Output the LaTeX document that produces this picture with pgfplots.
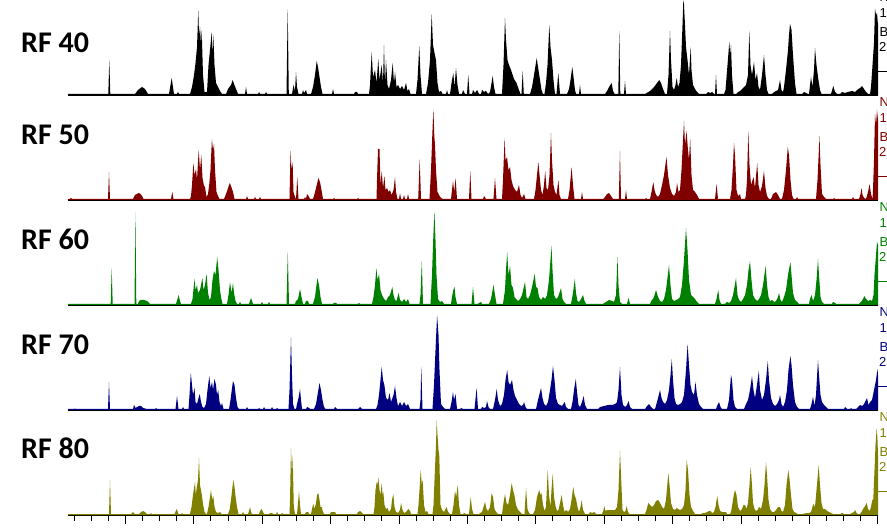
\documentclass[border=0pt]{standalone}
\usepackage{pgfplots}
\pgfplotsset{compat=1.18}
\usepackage{fontspec}
\newfontfamily\rffont{Carlito}
\newfontfamily\labfont{Liberation Sans}
\definecolor{cA}{RGB}{0,0,0}
\definecolor{cB}{RGB}{128,0,0}
\definecolor{cC}{RGB}{0,128,0}
\definecolor{cD}{RGB}{0,0,128}
\definecolor{cE}{RGB}{128,128,0}
\pgfplotsset{
  panel/.style={
    scale only axis, width=810pt, height=105pt,
    xmin=68, xmax=878, ymin=0, ymax=105,
    clip=false,
    axis x line=bottom, axis y line=none,
    x axis line style={-, line width=1.4pt, black},
    xtick=\empty, ytick=\empty,
  },
}
\newcommand{\rlabels}[2]{%
  \node[anchor=west, inner sep=0pt, text=#2, font=\labfont\fontsize{13}{15}\selectfont] at (879.5pt,#1+98pt) {N};
  \node[anchor=west, inner sep=0pt, text=#2, font=\labfont\fontsize{13}{15}\selectfont] at (879.5pt,#1+81.5pt) {1};
  \node[anchor=west, inner sep=0pt, text=#2, font=\labfont\fontsize{13}{15}\selectfont] at (879.5pt,#1+63pt) {B};
  \node[anchor=west, inner sep=0pt, text=#2, font=\labfont\fontsize{13}{15}\selectfont] at (879pt,#1+48.5pt) {2};
  \draw[#2, line width=0.8pt] (875pt,#1+24pt) -- (890pt,#1+24pt);
}
\begin{document}
\begin{tikzpicture}[x=1pt,y=1pt]
\useasboundingbox (0,0) rectangle (887,528);

% ---------------- RF 40 ----------------
\begin{axis}[panel, at={(68pt,433pt)}, anchor=south west]
\addplot[fill=cA, draw=none] coordinates {
(68,0)(68,1)
(108.3,1)(109.3,35)(110.3,1)
(135,1)(138,5)(142,8)(145,6)(148,1)
(169,1)(171.7,17)(174,1)
(177,1)(178,3)(179,1)
(190,1)(192,8)(194,20)(195.5,32)(197,48)(198.3,85)(199,60)(200,68)(201,50)(201.7,65)(203,20)(204.5,3)
(207,3)(208.5,30)(210,45)(211.7,63)(212.5,40)(213.3,60)(214.5,30)(216,12)(218,8)(220,4)(222,1)
(226,1)(228,6)(231,10)(232.7,15)(234,11)(236,6)(238,1)
(245,1)(246,8)(247,1)
(258,1)(259,3)(260,1)(265,1)(266,3)(267,1)
(286.5,1)(287.7,86)(288.8,1)
(292,1)(293.5,10)(295,4)(296,23)(297,8)(298.5,1)
(302,1)(303,5)(304,2)(306,5)(307,1)
(311,1)(313,8)(315,20)(316.7,34)(318,28)(319.5,18)(321,8)(322.5,1)
(332,1)(333,6)(334,1)
(354,1)(355,3)(357,3)(358,1)
(369,1)(370,10)(371.7,43)(373,18)(375,25)(376.5,12)(378.3,36)(379.5,15)(381.7,30)(383,12)(384,50)(385,10)(386,35)(387.5,10)(389,6)(391,15)(392.7,32)(394,12)(395,23)(396.5,8)(398,10)(400,6)(402,9)(404,5)(406,12)(407.5,4)(409,6)(410.5,1)
(416,1)(417.5,15)(419.3,49)(420.5,20)(422,1)
(426,1)(428,12)(430,35)(431.7,81)(433,50)(434.5,42)(436,35)(437.5,12)(439,3)(441,4)(442.5,1)(446,1)(447,5)(448,1)
(450,1)(451.5,12)(453.3,22)(454.5,8)(456,27)(457.5,10)(459,1)
(462,1)(463,5)(465,1)(467,1)(468.3,20)(469.5,1)
(472,1)(473,5)(475,2)(477,5)(479,1)
(481,1)(482,5)(484,3)(486,4)(488,1)(490,3)(491.5,12)(492.7,19)(494,8)(495.5,1)
(502,1)(503.5,30)(505,77)(506,55)(507.5,35)(509,30)(511,25)(514,16)(516.5,12)(519,5)(520.5,1)
(521.5,1)(522.7,24)(523.8,1)
(530,1)(532,8)(534,20)(536.7,37)(538,28)(540,15)(541.5,5)(543,1)
(544.5,1)(546,12)(547.5,30)(549.3,70)(550.5,48)(552,35)(553.5,15)(555,1)
(556.5,1)(558.3,22)(560,1)
(567,1)(569,6)(570.5,15)(572.3,28)(573.5,18)(575,5)(576,1)
(579,1)(580,10)(581,1)
(605,1)(607,4)(609,8)(611.7,12)(613,4)(614.5,1)
(618.3,1)(619.3,64)(620.3,1)
(624,1)(625,14)(626,1)
(645,1)(650,4)(654,8)(657,12)(659.3,15)(661,12)(663,6)(665,1)
(667,1)(668.5,20)(670,64)(671,35)(672.5,8)(674,5)(675.5,10)(676.7,17)(678,8)(679.5,12)
(681,30)(682.5,70)(683.3,95)(684,90)(685,70)(686,48)(687.5,35)(689,20)(690.7,48)(691.5,25)(693,10)(695,6)(697,3)(699,1)
(706,1)(708,3)(710,2)(712,3)(714,1)(715,1)(716,20)(717,1)
(724,1)(725.5,5)(727.5,30)(729.3,53)(730.2,40)(731,50)(732,20)(733.5,1)
(736,1)(738,3)(740,4)(742,6)(744,8)(746,10)(748,20)(749.3,64)(750.5,30)(752,20)(754,33)(755.5,15)(757,22)(758.5,8)(760,5)(762,20)(764,40)(765.5,20)(767,5)(768.5,1)
(772,1)(774,3)(776,4)(778,5)(779,10)(780,15)(781.5,5)(783,3)
(784,8)(786,25)(788,45)(789,60)(790,71)(791.5,65)(793,40)(795,12)(796.5,1)
(802,1)(804,3)(806,2)(808,1)
(809,1)(810,10)(811,18)(812.5,8)(814,25)(815,47)(816.5,30)(818,18)(820,5)(821.5,1)
(831,1)(833.3,9)(835,3)(837,1)
(840,1)(842,3)(845,2)(848,3)(852,4)(855,3)(857,5)(860,7)(862,9)(864,6)(866,3)(868,1)(870,1)
(871,8)(872.5,30)(874,52)(875,86)(876,80)(877,82)(878,70)(878,0)
};
\end{axis}

% ---------------- RF 50 ----------------
\begin{axis}[panel, at={(68pt,328pt)}, anchor=south west]
\addplot[fill=cB, draw=none] coordinates {
(68,0)(68,1)(70,1)(71,2)(72,1)
(108,1)(109,28)(110,1)
(133,1)(135,5)(137,6)(139,7)(140.5,6)(142,4)(143.5,1)
(171,1)(172.3,8)(173.5,1)
(190,1)(191,4)(192,15)(193.4,37)(194.5,25)(196,31)(197,20)(198.7,50)(200,30)(201.3,45)(202.5,22)(204,14)(205,13)(206.5,3)(208,6)(209.3,16)(210.5,30)(211.9,61)(213,50)(214,56)(215,30)(216.5,8)(218,4)(219.5,1)
(224,1)(226,6)(228,12)(229.8,17)(231,14)(233,8)(234.5,1)
(246,1)(247,4)(248,1)(254,1)(255,3)(256,1)(259,1)(260,3)(261,1)
(289.5,1)(290.5,49)(291.5,30)(292.6,38)(293.5,8)(295,3)(296,1)(297.3,23)(298.5,1)
(304,1)(305,3)(306,1)(307,6)(308.5,4)(310,1)
(313,1)(314.5,6)(316,12)(318.4,22)(320,18)(321.5,10)(323,1)
(333,1)(334,2)(335,1)
(357,1)(358,2)(359,1)
(376.5,1)(377,20)(378,51)(379.5,51)(380.5,15)(381.7,29)(383,12)(384.4,24)(385.5,10)(387,12)(388.5,8)(390,10)(391.5,5)(393.5,10)(395,23)(396,8)(397.5,1)
(399,1)(400,7)(401,1)(403,1)(404,5)(405,1)(407,1)(408,6)(409,1)
(418.2,1)(419.7,41)(421,1)
(429.5,1)(431,30)(432.5,70)(433.4,91)(434.3,64)(435,55)(436,30)(437.5,8)(439,5)(441,2)(443,1)
(451,1)(452,10)(453,19)(454.3,8)(455.6,22)(457,1)
(469,1)(470.3,29)(471.5,1)
(483,1)(484,4)(486,1)
(493.5,1)(495,22)(496.5,1)
(502,1)(503,20)(504.6,62)(505.5,40)(507,43)(508.5,30)(510,33)(511.5,20)(513,14)(515,10)(517,8)(519,15)(520.5,5)(522,2)(524,6)(525.5,1)
(534,1)(535.5,10)(537,25)(538.4,38)(539.5,25)(541,10)(542.5,5)(544,15)(545.2,29)(546.5,12)(548,10)(549.5,25)(551,67)(552,40)(553.5,15)(555,8)(556.5,5)(558.4,20)(559.5,5)(561,1)
(568,1)(569.5,10)(571.6,33)(573,15)(574.5,1)
(581,1)(582,8)(583,1)
(603,1)(605,3)(607,6)(609,7)(611,4)(613,1)
(618.8,1)(620,49)(621,1)(625,1)(626,10)(627,1)
(645,1)(646,2)(647,1)
(650,1)(651.5,8)(653.3,18)(654.5,10)(656,5)(658,3)(660,6)(662,15)(664,25)(666.5,43)(668,25)(670,12)(672,6)(674,4)(676,8)(677,17)(678.5,8)(680,10)(681.5,30)(683,60)(684,79)(685,55)(686.5,69)(688,50)(689,40)(690.2,61)(691.5,25)(693,10)(695,8)(697,5)(699,1)
(715,1)(716.6,16)(718,1)
(730,1)(731.5,10)(733,35)(734,57)(735,45)(736.5,10)(738,4)(740,6)(741,1)
(745,1)(746,5)(747,20)(748.3,69)(749.5,35)(751,15)(753.5,23)(755,12)(757.2,37)(758.5,15)(760,8)(762,14)(764,29)(765.5,12)(767,4)(769,1)
(771,1)(773,6)(776,8)(778,5)(780,1)
(782,1)(784,10)(786,30)(787.8,53)(789,45)(790.5,20)(792,5)(793.5,1)
(796,1)(797,3)(798,1)
(816,1)(817.5,20)(819.5,64)(820.5,35)(822,6)(824,3)(826,1)
(833,1)(834,2)(835,1)(852,1)(853,3)(854,1)
(859,1)(860.5,6)(861.6,12)(862.5,5)(864,2)(866,1)(868,8)(869.6,16)(871,6)(872.5,1)
(873,10)(874,40)(875,86)(876,75)(877,90)(878,80)(878,0)
};
\end{axis}

% ---------------- RF 60 ----------------
\begin{axis}[panel, at={(68pt,223pt)}, anchor=south west]
\addplot[fill=cC, draw=none] coordinates {
(68,0)(68,1.2)
(110.7,1.2)(111.7,37)(112.7,1.2)
(134.5,1.2)(135.4,93)(136.3,1.2)
(138,1.2)(139,4)(141,5)(144,5)(147,4)(149,2)(150,1.2)
(176,1.2)(177.5,6)(178.7,10)(180,4)(181,1.2)
(191,1.2)(192.5,6)(194.5,26)(195.5,15)(197,20)(198,12)(200,15)(202.4,27)(203.5,15)(205,20)(206.6,31)(208,12)(209.5,5)(211,8)(212.5,25)(214,34)(215.5,30)(217.2,48)(218.5,35)(220,15)(221,8)(222.5,1.2)
(227,1.2)(228.5,10)(230,23)(231.5,12)(233,22)(234,12)(235.5,4)(237,1.2)
(239,1.2)(240,3)(241,1.2)(249,1.2)(251,7)(253,1.2)
(261,1.2)(262,3)(263,1.2)(268,1.2)(269,3)(270,1.2)
(286.5,1.2)(287.8,53)(289,1.2)
(295,1.2)(296,4)(298,6)(300,16)(301.5,8)(303,1.2)
(305,1.2)(306,4)(308,4)(309,1.2)
(313,1.2)(315,8)(317.4,27)(319,20)(320.5,8)(322,1.2)
(333,1.2)(334,2)(336,2)(337,1.2)(358,1.2)(359,2)(360,1.2)
(372,1.2)(373.5,8)(375,20)(376.4,37)(377.5,25)(379,31)(380.5,15)(382,10)(384,6)(386,4)(388,8)(390,10)(392.3,18)(393.5,10)(395,5)(396.5,4)(398.6,12)(400,5)(402,3)(404,6)(406,3)(408,6)(409.5,1.2)
(419.5,1.2)(420.5,10)(421.8,44)(423,1.2)
(430.5,1.2)(432,30)(433,60)(434.4,94)(435.5,65)(436.5,30)(438,6)(440,3)(442,4)(444,1.2)
(451,1.2)(452,8)(453.3,15)(454.5,18)(455.5,8)(457,1.2)
(471.5,1.2)(473,18)(474.5,1.2)
(478,1.2)(479,2)(481,3)(482,1.2)
(489,1.2)(491,6)(493.5,20)(495,10)(496.5,1.2)
(503,1.2)(505,15)(506,35)(507.2,53)(508.5,30)(510,39)(511.5,20)(513,17)(514.5,8)(516,6)(518,4)(520,6)(522,10)(525,23)(526.5,8)(528,6)(530,10)(532,18)(534.7,31)(536,18)(537.5,17)(539,8)(541,5)(543,8)(545,6)(547,10)(549,25)(551.5,59)(552.5,35)(554,10)(556,6)(558,8)(561,17)(562.5,6)(564,3)(566,1.2)
(571,1.2)(573,12)(574.8,26)(576,12)(577.5,4)(579,3)(581,6)(583,10)(584.5,4)(586,1.2)
(603,1.2)(606,3)(609,5)(612,4)(614,3)(616,10)(617.5,48)(618.5,20)(620,3)(622,1.2)
(627,1.2)(628.5,7)(630,1.2)
(650,1.2)(652,5)(654,8)(656,15)(658,8)(660,4)(662,3)(664,6)(666,15)(669,40)(670.5,20)(672,6)(674,4)(676,5)(678,6)(680,8)(682,20)(684,45)(686,77)(687.5,55)(689,25)(691,10)(693,8)(695,6)(697,3)(699,1.2)
(715,1.2)(716.5,6)(718.2,15)(719.5,5)(721,1.2)
(725,1.2)(727,3)(729,2)(731,4)(733,10)(734.5,18)(736,27)(737.5,10)(739,5)(741,3)(743,6)(745,10)(747,20)(748.5,35)(750,44)(751.5,25)(753,10)(755,6)(757,4)(759,6)(761,10)(763,20)(765.7,39)(767,20)(768.5,8)(770,4)(772,5)(774,3)(776,4)(778,8)(779,12)(780.5,5)(782,3)(784,8)(786,15)(788,30)(790.4,43)(791.5,30)(793,12)(795,5)(797,3)(799,1.2)
(809,1.2)(810,6)(811.5,10)(813,4)(815,10)(816.5,25)(818,46)(819,30)(820.5,8)(822,3)(824,1.2)
(832,1.2)(833,3)(835,2)(836,1.2)
(859,1.2)(861,3)(863,6)(864.3,9)(866,6)(868,4)(870,5)(872,4)(873.5,10)(874.5,30)(876,50)(877,63)(878,60)(878,0)
};
\end{axis}

% ---------------- RF 70 ----------------
\begin{axis}[panel, at={(68pt,118pt)}, anchor=south west]
\addplot[fill=cD, draw=none] coordinates {
(68,0)(68,1)(74,1)(75,1.5)(76,1)
(108,1)(109,28)(110,1)
(133,1)(134,5)(135.5,2)(137,3)(139,4)(141,4)(143,2)(145,1.5)(147,1)
(155,1)(156,2)(157,1)
(175.5,1)(177,14)(178.5,1)
(182,1)(183,3)(184,1)
(188.5,1)(189.5,15)(190.8,37)(192,25)(193,15)(194.5,22)(195.5,8)(197,6)(198.5,12)(199.8,16)(201,8)(202.5,3)(204,2)(206,6)(207.5,20)(209.3,34)(210.5,22)(212,28)(213,20)(214.5,31)(216,25)(217,15)(218.2,20)(219.5,8)(221,4)(222,7)(223.5,1)
(229,1)(230.5,10)(232,22)(233,29)(234.5,25)(236,12)(237.5,3)(239,1)
(246,1)(247,3)(248,1)(258,1)(259,2)(260,1)(263,1)(264,3)(265,1)(271,1)(272,3)(273,1)(276,1)(277,2)(278,1)
(288.5,1)(289.5,20)(291,72)(292,35)(293,6)(294.5,1)
(296,1)(297,6)(298.5,12)(300,21)(301,10)(302,1)
(306,1)(307,3)(309,2)(310,1)
(314,1)(316,6)(318,18)(319.5,27)(321,20)(322.5,10)(324,3)(325.5,1)
(334,1)(335,3)(337,1)(358,1)(360,3)(362,1)
(376,1)(377.5,5)(379,15)(380.5,30)(381.7,43)(383,30)(384.4,25)(386,12)(388,10)(389.6,17)(391,8)(393.5,15)(395,24)(396.5,12)(398,4)(400,8)(402,4)(404,8)(406,4)(408,6)(410,1)
(419.5,1)(420.5,10)(421.3,43)(422.5,1)
(432.5,1)(434,25)(435.5,60)(437.1,95)(438.5,75)(439.5,40)(441,6)(443,3)(445,1)
(450,1)(451.5,8)(453,18)(454,10)(455.5,16)(457,1)
(460,1)(461,2)(463,1)
(474.5,1)(476.6,22)(478,1)
(481,1)(482,3)(484,2)(486,3)(487,9)(488.5,3)(490,1)
(493,1)(495,10)(496.7,21)(498,10)(500,4)(502,6)(504,15)(505.5,30)(507.2,40)(508.5,28)(510,25)(512,30)(513.5,20)(515,14)(517,10)(519,6)(521,4)(523,5)(524,8)(525.5,3)(527,1)
(536,1)(538,10)(541,22)(542.5,12)(544,6)(546,4)(548,8)(550,20)(551.5,30)(553,44)(554.5,30)(556,12)(558,6)(560,5)(562,4)(564.7,8)(566,3)(568,1)
(571,1)(572.5,8)(574,20)(575.8,31)(577,18)(578.5,5)(580,3)(582,8)(583.7,14)(585,5)(587,1)
(598,1)(600,3)(604,4)(608,5)(612,5)(615,6)(617,8)(618.5,20)(620,43)(621.5,15)(623,5)(625,3)(627,5)(628.5,9)(630,3)(632,1)
(645,1)(647,4)(649,6)(651,3)(653,1)
(655,1)(657,8)(660,20)(661.5,12)(663,8)(665,6)(667,10)(669,20)(670.5,35)(671.8,51)(673,30)(674.5,12)(676,6)(678,5)(680,6)(682,8)(684,15)(686,40)(687.6,66)(689,45)(690.5,25)(692,18)(694,15)(695.5,28)(697,15)(699,6)(701,3)(703,1)
(716,1)(717,4)(719,8)(720.5,3)(722,1)
(727,1)(729,10)(731,35)(732,30)(733.5,10)(735,3)(737,1)
(744,1)(746,6)(748,10)(750,20)(752,34)(753.5,20)(755,12)(757,25)(758.8,39)(760,20)(762,10)(764,15)(766,30)(767.8,49)(769,30)(771,12)(773,6)(775,4)(777,6)(779,10)(780,15)(781.5,6)(783,3)(785,8)(787,20)(788.5,40)(790.4,54)(791.5,45)(793,25)(795,8)(797,3)(799,1)
(810,1)(811.5,6)(813,13)(814.5,4)(816,15)(818,50)(819,35)(820.5,15)(822,8)(824,5)(826,3)(828,1)
(844,1)(845,3)(847,1)(850,1)(851,2)(852,1)
(856,1)(858,3)(860,5)(862,4)(864,6)(866,10)(867,12)(868.5,5)(870,8)(872,10)(874,20)(876,30)(877.5,41)(878,35)(878,0)
};
\end{axis}

% ---------------- RF 80 ----------------
\begin{axis}[panel, at={(68pt,13pt)}, anchor=south west,
  xtick={125.3,193.7,262.1,330.5,398.9,467.3,535.7,604.1,672.5,740.9,809.3,877.7},
  minor xtick={74,91.1,108.2,142.4,159.5,176.6,210.8,227.9,245,279.2,296.3,313.4,347.6,364.7,381.8,416,433.1,450.2,484.4,501.5,518.6,552.8,569.9,587,621.2,638.3,655.4,689.6,706.7,723.8,758,775.1,792.2,826.4,843.5,860.6},
  xticklabels={}, tick align=outside,
  major tick length=9pt, minor tick length=5.5pt,
  tick style={black, line width=0.8pt},
]
\addplot[fill=cE, draw=none] coordinates {
(68,0)(68,1)
(109,1)(110,35)(111,1)
(131,1)(133,3)(135,1)(139,1)(141,3)(143,4)(145,3)(147,1)(150,1)(151,2)(152,1)
(174.5,1)(176.7,6)(178.5,1)
(181,1)(182,2)(183,1)
(190,1)(191.5,8)(193,20)(195,33)(195.8,20)(196.7,27)(198,35)(199,57)(200,30)(201.7,21)(203,11)(204.5,3)(206,1)
(207,1)(208.5,8)(210,18)(211,25)(212.2,15)(213.3,19)(214.5,8)(216,3)(218,2)(220,3)(221.5,1)
(228,1)(229.5,5)(231,15)(233.3,35)(234.5,28)(235.5,19)(237,8)(238.5,1)
(242,1)(243,3)(244,1)
(248,1)(249,4)(250,8)(251,3)(252,1)
(259,1)(260,4)(261.7,6)(263,3)(264,1)
(269,1)(270,2)(272,2)(273,1)(276,1)(277,3)(278,1)(281,1)(282,2)(283,1)
(289.5,1)(290,15)(291,67)(292,40)(292.7,59)(293.8,8)(295,1)
(297,1)(298,12)(299,24)(300,10)(301,1)
(305,1)(306,3)(308,3)(309,1)
(311,1)(312,6)(313.3,11)(314.5,6)(316,12)(317,20)(318.3,22)(319.5,15)(320.5,8)(321.7,8)(323,3)(324,1)
(330,1)(331,3)(333.3,3)(335,3)(336,1)
(357,1)(358,3)(360,4)(362,2)(363,1)
(373.5,1)(374.5,8)(375.5,25)(376.7,33)(377.5,30)(378.3,38)(379.5,25)(380.5,20)(381.7,32)(382.5,20)(383.3,23)(384.5,10)(386,6)(387.5,7)(389,3)(391,6)(392,15)(393.3,21)(394.5,8)(396,3)(398,2)(400,5)(401,12)(402.5,5)(404,2)(406,3)(408.3,6)(410,4)(411,1)
(417.5,1)(418.5,10)(419.5,25)(420.7,45)(421.8,30)(422.7,35)(424,10)(425.5,3)(427,4)(428.5,1)
(432.5,1)(433.5,10)(435,47)(436,70)(436.7,95)(437.5,80)(438.5,65)(439.3,59)(440.5,10)(442,5)(444,3)(446.7,8)(448,3)(450,1)
(452,1)(453.5,10)(455,24)(456.2,18)(457.7,30)(459,10)(460.5,1)
(463,1)(464,2)(466,1)
(469,1)(470.7,18)(472,6)(473.5,1)
(479,1)(480,2)(482,3)(483.5,8)(485,13)(486.5,6)(488,4)(490,8)(491.7,22)(493,18)(494.5,6)(496,3)(498,1)
(502,1)(503.5,12)(505,21)(506.5,12)(508,10)(510,20)(511.7,32)(513,25)(514.5,19)(516,10)(518,5)(520,3)(522,1)
(524.5,1)(526,27)(527.5,6)(529,2)(530,1)
(533,1)(535,5)(537,18)(539.3,25)(540.5,20)(541.5,22)(543,10)(544.5,4)(546,8)(547.7,45)(549,20)(550.5,8)(551.5,25)(552.7,41)(554,18)(555.5,9)(557,4)(558.5,5)(560,12)(561.7,20)(563,10)(564.5,3)(566,5)(568,3)(570,6)(571.5,15)(573.3,28)(574.5,20)(576,16)(577.5,8)(579,3)(580.5,8)(581.7,15)(583,5)(585,1)
(589,1)(590,3)(592,2)(594,3)(596,1)
(602,1)(603.5,5)(604.3,9)(605.5,4)(607,5)(609,5)(612,5)(615,5)(617,8)(618.5,25)(620,64)(621,40)(622.5,5)(624,3)(625.5,4)(626.7,9)(628,3)(629.5,1)
(645,1)(646.5,5)(648.3,12)(650,10)(652,8)(654,10)(656,14)(658.3,15)(660,12)(662,8)(664,6)(666,15)(668.3,42)(669.5,30)(671,12)(673,6)(675,5)(676.7,7)(678,6)(680,5)(682,6)(684,10)(685.5,25)(686.7,55)(688,45)(689.5,20)(691,8)(693,4)(695,1)
(701,1)(703,2)(705,2)(707,3)(709,4)(710.5,4)(712,2)(714,3)(715.5,8)(717.3,19)(718.5,10)(720,4)(722,3)(724,3)(726,3)(727,1)
(730,1)(731,3)(732.5,12)(733.8,20)(735,25)(736.5,20)(738,8)(740,4)(742,6)(743.5,10)(745,10)(746.5,6)(748,12)(749.5,30)(750.7,48)(752,30)(753,12)(754.5,6)(756,4)(757.5,5)(759,8)(761,6)(763,15)(764.5,30)(766,53)(767,40)(768.5,15)(770,6)(772,3)(774,3)(776,5)(778,8)(780,8)(781.5,4)(783,3)(785,10)(786.5,30)(788.3,45)(789.5,36)(791,20)(792.5,6)(794,3)(796,2)(798,1)
(803,1)(806,2)(809,2)(811,3)(813.3,11)(815,8)(816.5,25)(818.7,50)(820,30)(821.5,12)(823,6)(825,6)(827,4)(829,3)(831,2)(833,1)
(840,1)(842,2)(844,1)(850,1)(852,2)(854,3)(855,5)(856.5,2)(858,1)
(860,1)(861.5,3)(863,6)(864.5,8)(866.7,12)(868,6)(869.5,4)(871,8)(872,14)(873.3,16)(874.3,40)(875.5,70)(876.7,87)(877.5,75)(878,60)(878,0)
};
\end{axis}

% ---------------- labels ----------------
\node[anchor=base west, inner sep=0pt, font=\rffont\bfseries\fontsize{30}{36}\selectfont] at (21,475) {RF 40};
\node[anchor=base west, inner sep=0pt, font=\rffont\bfseries\fontsize{30}{36}\selectfont] at (21,383) {RF 50};
\node[anchor=base west, inner sep=0pt, font=\rffont\bfseries\fontsize{30}{36}\selectfont] at (21,278) {RF 60};
\node[anchor=base west, inner sep=0pt, font=\rffont\bfseries\fontsize{30}{36}\selectfont] at (21,173) {RF 70};
\node[anchor=base west, inner sep=0pt, font=\rffont\bfseries\fontsize{30}{36}\selectfont] at (21,70) {RF 80};

\rlabels{433}{cA}
\rlabels{328}{cB}
\rlabels{223}{cC}
\rlabels{118}{cD}
\rlabels{13}{cE}
\end{tikzpicture}
\end{document}
